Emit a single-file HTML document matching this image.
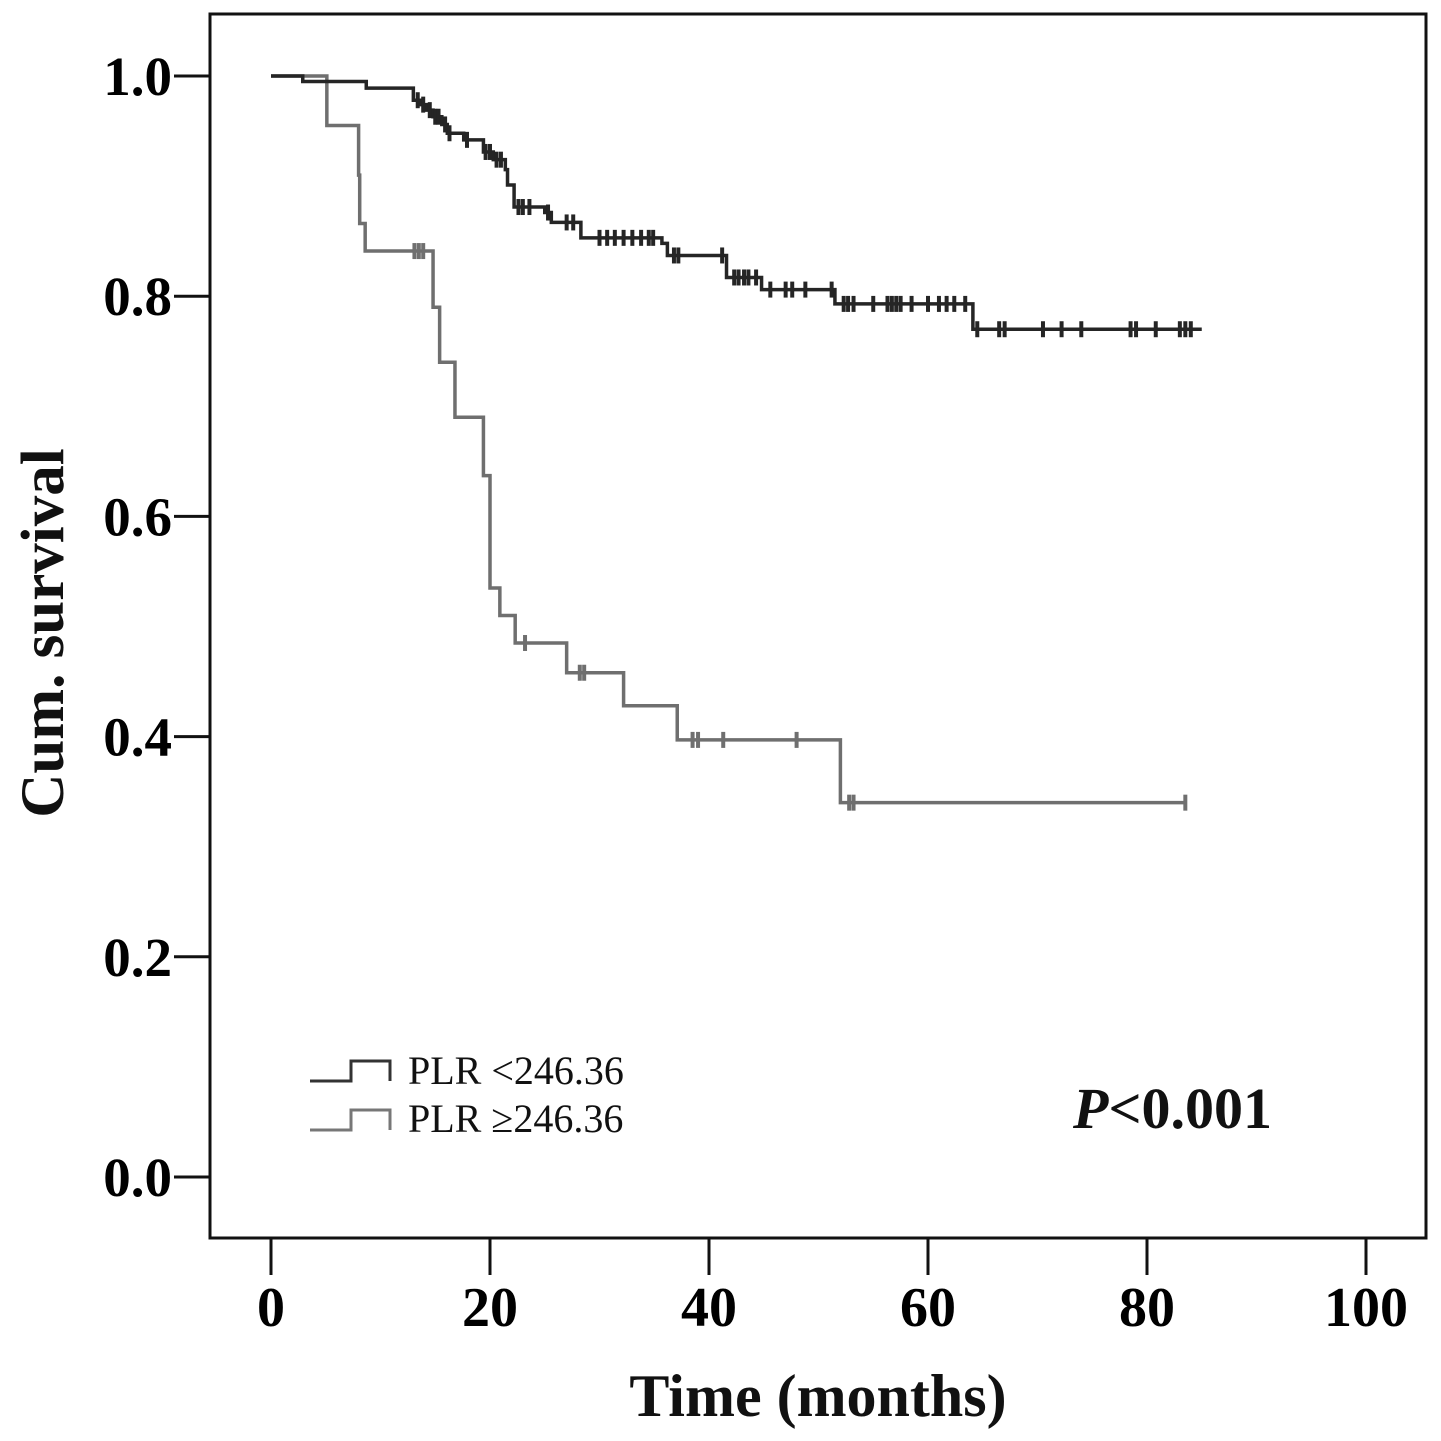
<!DOCTYPE html>
<html><head><meta charset="utf-8"><style>
html,body{margin:0;padding:0;background:#fff;}
svg{display:block;}
text{font-family:"Liberation Serif",serif;}
</style></head><body>
<svg id="chart" width="1441" height="1441" viewBox="0 0 1441 1441" xmlns="http://www.w3.org/2000/svg">
<rect x="210" y="14" width="1216" height="1224" fill="none" stroke="#111" stroke-width="3"/>
<g id="axes"></g>
<g id="series"></g>
<text transform="translate(63,633) rotate(-90)" text-anchor="middle" font-size="61" font-weight="bold" fill="#111">Cum. survival</text>
<text x="818" y="1416" text-anchor="middle" font-size="60" font-weight="bold" fill="#111">Time (months)</text>
<g>
<path d="M310,1081 H351 V1061 H390 V1081" fill="none" stroke="#333" stroke-width="3"/>
<text x="408" y="1084" font-size="40" fill="#111">PLR &lt;246.36</text>
<path d="M310,1130 H351 V1110 H390 V1130" fill="none" stroke="#777" stroke-width="3"/>
<text x="408" y="1132" font-size="40" fill="#111">PLR ≥246.36</text>
</g>
<text x="1073" y="1128" font-size="58" font-weight="bold" fill="#111"><tspan font-style="italic">P</tspan>&lt;0.001</text>
</svg>
<script>
const xTicks = [0, 20, 40, 60, 80, 100];
const yTicks = [0.0, 0.2, 0.4, 0.6, 0.8, 1.0];
const yTickLabels = ["0.0", "0.2", "0.4", "0.6", "0.8", "1.0"];
// low PLR step curve: times and survival after each step
const lowTimes = [0, 2.9, 8.7, 13.0, 13.6, 14.2, 14.8, 15.6, 16.1, 17.6, 19.4, 20.3, 21.4, 21.6, 22.2, 25.0, 25.6, 28.3, 35.7, 36.2, 41.6, 44.8, 51.5, 64.1];
const lowSurv = [1.0, 0.995, 0.989, 0.978, 0.974, 0.969, 0.963, 0.956, 0.948, 0.942, 0.931, 0.924, 0.915, 0.901, 0.881, 0.876, 0.867, 0.853, 0.848, 0.837, 0.817, 0.806, 0.793, 0.770];
const lowEnd = 85;
const lowCensor = [13.4, 13.9, 14.5, 15.0, 15.3, 15.9, 16.3, 17.9, 19.6, 20.0, 20.6, 21.0, 22.6, 23.0, 23.6, 25.3, 27.0, 27.6, 30.0, 30.7, 31.4, 32.2, 33.0, 33.8, 34.5, 34.9, 36.8, 37.2, 41.2, 42.3, 42.7, 43.2, 43.6, 44.3, 45.6, 47.0, 47.6, 48.8, 51.2, 52.3, 52.7, 53.2, 55.0, 56.3, 56.7, 57.1, 57.5, 58.5, 60.0, 61.0, 61.7, 62.4, 63.4, 64.5, 66.5, 67.0, 70.5, 72.2, 74.0, 78.5, 79.0, 80.8, 83.0, 83.5, 84.0];
// high PLR step curve
const highTimes = [0, 5.1, 8.0, 8.1, 8.6, 14.8, 15.4, 16.8, 19.4, 20.0, 20.9, 22.3, 27.0, 32.2, 37.1, 52.0];
const highSurv = [1.0, 0.955, 0.910, 0.866, 0.841, 0.790, 0.740, 0.690, 0.637, 0.535, 0.510, 0.485, 0.458, 0.428, 0.397, 0.340];
const highEnd = 83.6;
const highCensor = [13.1, 13.5, 13.9, 23.2, 28.2, 28.6, 38.5, 39.0, 41.3, 48.0, 52.8, 53.2, 83.5];

const NS = "http://www.w3.org/2000/svg";
const xS = v => 271 + v * 10.95;
const yS = v => 1177 - v * 1101;
const axes = document.getElementById("axes");
const series = document.getElementById("series");

xTicks.forEach((t) => {
  const l = document.createElementNS(NS, "line");
  
  
  l.setAttribute("x1", xS(t)); l.setAttribute("x2", xS(t));
  l.setAttribute("y1", 1238); l.setAttribute("y2", 1275);
  l.setAttribute("stroke", "#111"); l.setAttribute("stroke-width", "3");
  axes.appendChild(l);
  const tx = document.createElementNS(NS, "text");
  
  
  tx.setAttribute("x", xS(t)); tx.setAttribute("y", 1326);
  tx.setAttribute("text-anchor", "middle"); tx.setAttribute("font-size", "56"); tx.setAttribute("font-weight", "bold");
  tx.textContent = String(t);
  axes.appendChild(tx);
});
yTicks.forEach((t, i) => {
  const l = document.createElementNS(NS, "line");
  
  
  l.setAttribute("x1", 174); l.setAttribute("x2", 210);
  l.setAttribute("y1", yS(t)); l.setAttribute("y2", yS(t));
  l.setAttribute("stroke", "#111"); l.setAttribute("stroke-width", "3");
  axes.appendChild(l);
  const tx = document.createElementNS(NS, "text");
  
  
  tx.setAttribute("x", 172); tx.setAttribute("y", yS(t) + 19);
  tx.setAttribute("text-anchor", "end"); tx.setAttribute("font-size", "55"); tx.setAttribute("font-weight", "bold");
  tx.textContent = yTickLabels[i];
  axes.appendChild(tx);
});

function survAt(times, surv, t) {
  let s = surv[0];
  for (let i = 0; i < times.length; i++) if (times[i] <= t) s = surv[i];
  return s;
}
function drawCurve(times, surv, end, censor, color, name) {
  let d = "M" + xS(times[0]) + "," + yS(surv[0]);
  for (let i = 1; i < times.length; i++) {
    d += " H" + xS(times[i]) + " V" + yS(surv[i]);
  }
  d += " H" + xS(end);
  const p = document.createElementNS(NS, "path");
  
  
  p.setAttribute("d", d); p.setAttribute("fill", "none");
  p.setAttribute("stroke", color); p.setAttribute("stroke-width", "3.5");
  series.appendChild(p);
  censor.forEach(c => {
    const m = document.createElementNS(NS, "line");
    
    
    const y = yS(survAt(times, surv, c));
    m.setAttribute("x1", xS(c)); m.setAttribute("x2", xS(c));
    m.setAttribute("y1", y - 8); m.setAttribute("y2", y + 8);
    m.setAttribute("stroke", color); m.setAttribute("stroke-width", "4");
    series.appendChild(m);
  });
}
drawCurve(highTimes, highSurv, highEnd, highCensor, "#6f6f6f", "high-plr");
drawCurve(lowTimes, lowSurv, lowEnd, lowCensor, "#252525", "low-plr");
</script>
</body></html>
